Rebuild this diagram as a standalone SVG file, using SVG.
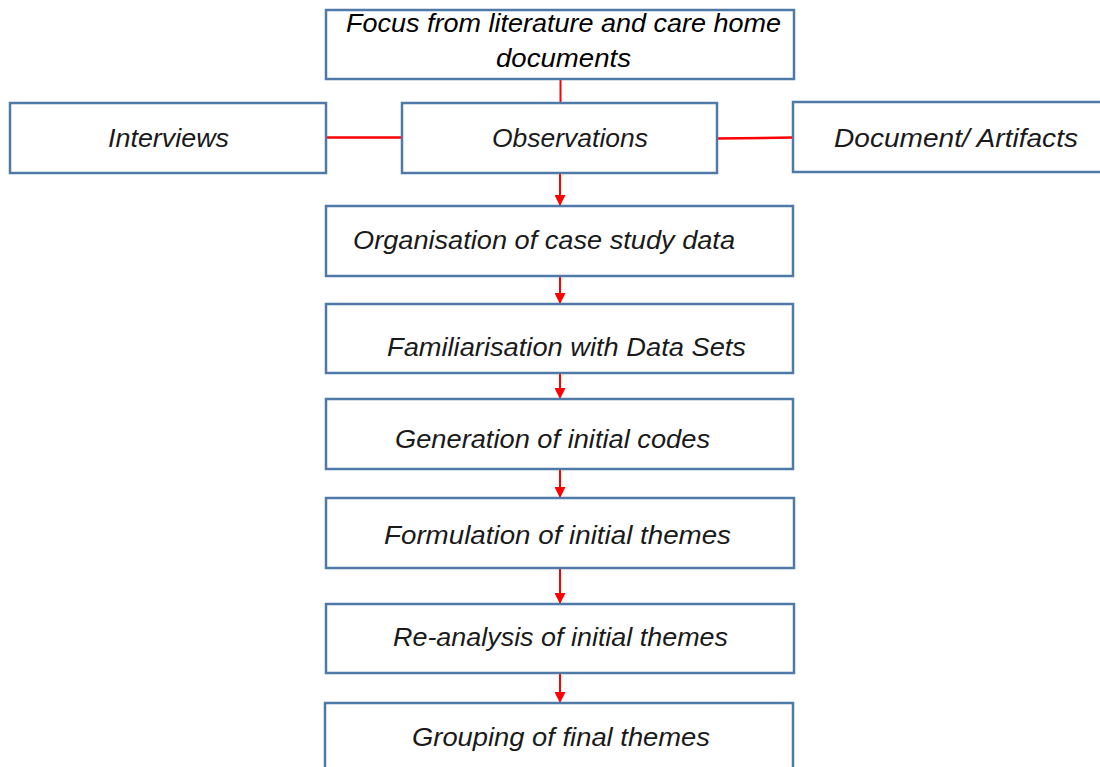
<svg xmlns="http://www.w3.org/2000/svg" width="1100" height="767" viewBox="0 0 1100 767">
<style>
.box{fill:#fff;stroke:#4f7aa8;stroke-width:2.5}
.t{font-family:"Liberation Sans",Arial,sans-serif;font-style:italic;font-size:25px;fill:#1a1a1a}
.f{fill:#000}
.c{stroke:#ff0000;stroke-width:2;fill:none}
.h{stroke:#ff0000;stroke-width:2.5;fill:none}
</style>
<defs>
<marker id="ah" markerWidth="11" markerHeight="11" refX="10" refY="5.5" orient="auto" markerUnits="userSpaceOnUse">
<path d="M0,0 L11,5.5 L0,11 Z" fill="#ff0000"/>
</marker>
</defs>
<rect width="1100" height="767" fill="#fff"/>
<g id="connectors">
<line class="c" x1="560.5" y1="79" x2="560.5" y2="103"/>
<line class="h" x1="326" y1="137.5" x2="402" y2="137.5"/>
<line class="h" x1="717" y1="138.5" x2="793" y2="137.5"/>
<line class="c" x1="560" y1="173" x2="560" y2="205" marker-end="url(#ah)"/>
<line class="c" x1="560" y1="276" x2="560" y2="303" marker-end="url(#ah)"/>
<line class="c" x1="560" y1="373" x2="560" y2="398" marker-end="url(#ah)"/>
<line class="c" x1="560" y1="469" x2="560" y2="497" marker-end="url(#ah)"/>
<line class="c" x1="560" y1="568" x2="560" y2="603" marker-end="url(#ah)"/>
<line class="c" x1="560" y1="673" x2="560" y2="702" marker-end="url(#ah)"/>
</g>
<g id="focus">
<rect class="box" x="326" y="10" width="468" height="69"/>
<text class="t f" x="346" y="32" textLength="435" lengthAdjust="spacingAndGlyphs">Focus from literature and care home</text>
<text class="t f" x="496" y="67" textLength="135" lengthAdjust="spacingAndGlyphs">documents</text>
</g>
<g id="interviews">
<rect class="box" x="10" y="103" width="316" height="70"/>
<text class="t" x="108" y="147" textLength="121" lengthAdjust="spacingAndGlyphs">Interviews</text>
</g>
<g id="observations">
<rect class="box" x="402" y="103" width="315" height="70"/>
<text class="t" x="492" y="147" textLength="156" lengthAdjust="spacingAndGlyphs">Observations</text>
</g>
<g id="documents">
<rect class="box" x="793" y="102" width="312" height="70"/>
<text class="t" x="834" y="147" textLength="244" lengthAdjust="spacingAndGlyphs">Document/ Artifacts</text>
</g>
<g id="organisation">
<rect class="box" x="326" y="206" width="467" height="70"/>
<text class="t" x="353" y="249" textLength="382" lengthAdjust="spacingAndGlyphs">Organisation of case study data</text>
</g>
<g id="familiarisation">
<rect class="box" x="326" y="304" width="467" height="69"/>
<text class="t" x="387" y="356" textLength="359" lengthAdjust="spacingAndGlyphs">Familiarisation with Data Sets</text>
</g>
<g id="generation">
<rect class="box" x="326" y="399" width="467" height="70"/>
<text class="t" x="395" y="448" textLength="315" lengthAdjust="spacingAndGlyphs">Generation of initial codes</text>
</g>
<g id="formulation">
<rect class="box" x="326" y="498" width="468" height="70"/>
<text class="t" x="384" y="544" textLength="347" lengthAdjust="spacingAndGlyphs">Formulation of initial themes</text>
</g>
<g id="reanalysis">
<rect class="box" x="326" y="604" width="468" height="69"/>
<text class="t" x="393" y="646" textLength="335" lengthAdjust="spacingAndGlyphs">Re-analysis of initial themes</text>
</g>
<g id="grouping">
<rect class="box" x="325" y="703" width="468" height="80"/>
<text class="t" x="412" y="746" textLength="298" lengthAdjust="spacingAndGlyphs">Grouping of final themes</text>
</g>
</svg>
